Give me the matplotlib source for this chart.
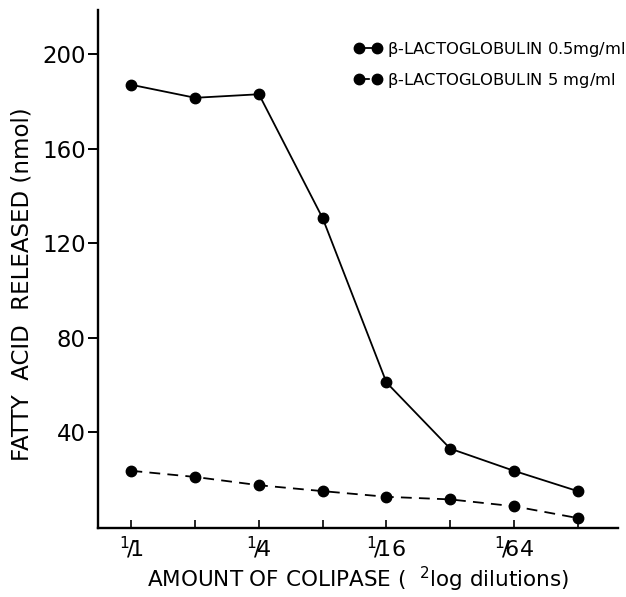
import matplotlib
matplotlib.use("Agg")
import matplotlib.pyplot as plt

# colipase dilution steps (2log), 1/1 ... 1/128
steps = [0, 1, 2, 3, 4, 5, 6, 7]
tick_pos = [0, 2, 4, 6]
tick_labels = [r'$^1\!/\!1$', r'$^1\!/\!4$', r'$^1\!/\!16$', r'$^1\!/\!64$']

# fatty acid released (nmol)
blg_05 = [187, 181.5, 183, 130.5, 61, 33, 23.6, 15]
blg_5 = [23.6, 21, 17.5, 15, 12.6, 11.5, 8.6, 3.6]

plt.rcParams['mathtext.default'] = 'regular'
plt.rcParams['font.family'] = 'DejaVu Sans'

fig = plt.figure(figsize=(6.26, 5.97), dpi=100)
ax = fig.add_axes([0.157, 0.116, 0.83, 0.867])

ax.plot(steps, blg_05, '-', color='black', lw=1.3, marker='o', ms=7.5,
        label=r'$\beta$-LACTOGLOBULIN 0.5mg/ml')
ax.plot(steps, blg_5, color='black', lw=1.3, ls=(0, (6, 4)), marker='o', ms=7.5,
        label=r'$\beta$-LACTOGLOBULIN 5 mg/ml')

ax.set_xlim(-0.52, 7.63)
ax.set_ylim(-0.5, 218.6)

ax.spines['top'].set_visible(False)
ax.spines['right'].set_visible(False)
ax.spines['left'].set_linewidth(1.7)
ax.spines['bottom'].set_linewidth(1.7)

ax.set_yticks([40, 80, 120, 160, 200])
ax.tick_params(axis='y', direction='out', length=7, width=1.4, labelsize=16.5, pad=2)
ax.set_xticks(steps)
ax.set_xticklabels(['' if s not in tick_pos else tick_labels[tick_pos.index(s)]
                    for s in steps])
ax.tick_params(axis='x', direction='in', length=6, width=1.2, labelsize=16, pad=5)

ax.set_ylabel('FATTY  ACID  RELEASED (nmol)', fontsize=16.5)
ax.yaxis.set_label_coords(-0.125, 0.47)
ax.set_xlabel(r'AMOUNT OF COLIPASE (  $^2$log dilutions)', fontsize=15.5, labelpad=3)

ax.legend(loc='upper left', bbox_to_anchor=(0.47, 0.965), frameon=False,
          fontsize=11.8, handlelength=1.7, handletextpad=0.3, labelspacing=0.75,
          numpoints=2, borderaxespad=0.3)

fig.savefig('out.png', dpi=100)
